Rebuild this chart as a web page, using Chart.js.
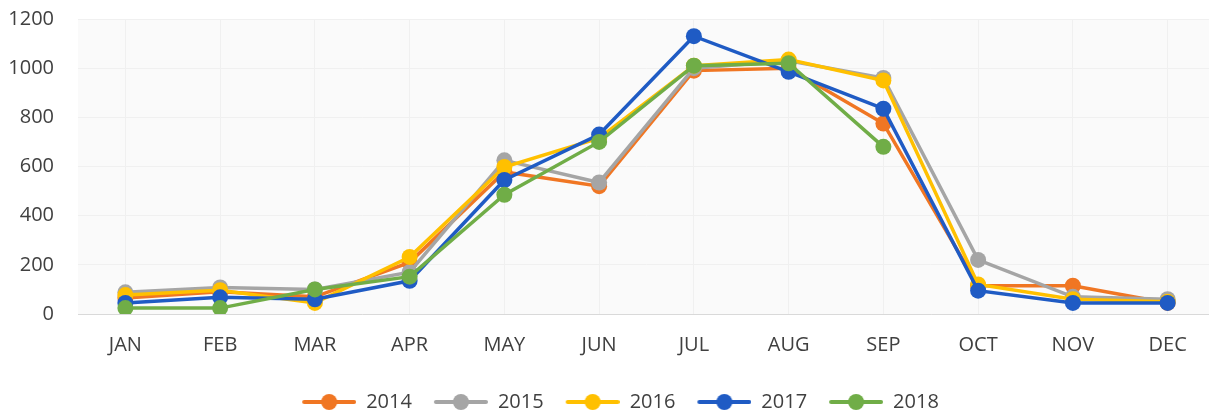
<!DOCTYPE html>
<html>
<head>
<meta charset="utf-8">
<script src="https://cdn.jsdelivr.net/npm/chart.js@4/dist/chart.umd.min.js"></script>
<style>
  html, body { margin: 0; padding: 0; background: #fff; overflow: hidden; }
  #wrap { width: 1243px; height: 412px; }
</style>
</head>
<body>
<div id="wrap"><canvas id="myChart" width="1243" height="412"></canvas></div>
<script>
// data
const months = ["JAN","FEB","MAR","APR","MAY","JUN","JUL","AUG","SEP","OCT","NOV","DEC"];
const years = ["2014","2015","2016","2017","2018"];
const y2014 = [65, 90, 70, 210, 578, 520, 990, 1000, 775, 115, 115, 45];
const y2015 = [88, 108, 100, 170, 625, 535, 1000, 1030, 960, 220, 70, 60];
const y2016 = [77, 97, 45, 232, 598, 715, 1010, 1035, 950, 120, 60, 50];
const y2017 = [45, 68, 60, 135, 545, 730, 1130, 985, 835, 95, 45, 45];
const y2018 = [24, 24, 100, 152, 485, 700, 1010, 1020, 680, null, null, null];
const colors = ["#F07623", "#A5A5A5", "#FFC000", "#1F5BC4", "#70AD47"];
const yTicks = [0, 200, 400, 600, 800, 1000, 1200];

const series = [y2014, y2015, y2016, y2017, y2018];

Chart.defaults.font.family = "'Open Sans', sans-serif";
Chart.defaults.font.size = 20;
Chart.defaults.color = "#404040";

// legend marker: line with a dot in the middle
function legendMark(color) {
    const c = document.createElement("canvas");
    c.width = 66; c.height = 20;
    const g = c.getContext("2d");
    g.strokeStyle = color; g.lineWidth = 4; g.lineCap = "round";
    g.beginPath(); g.moveTo(14, 10); g.lineTo(64, 10); g.stroke();
    g.fillStyle = color;
    g.beginPath(); g.arc(39, 10, 8, 0, Math.PI * 2); g.fill();
    return c;
}

const plotBg = {
    id: "plotBg",
    afterLayout(chart) {
        // nudge legend a little to the right, like the original
        chart.legend.left += 7;
        chart.legend.right += 7;
    },
    beforeDraw(chart) {
        const a = chart.chartArea, ctx = chart.ctx;
        ctx.save();
        ctx.fillStyle = "#fafafa";
        ctx.fillRect(a.left, a.top, a.right - a.left, a.bottom - a.top);
        ctx.restore();
    }
};

var ctx = document.getElementById('myChart').getContext('2d');
var chart = new Chart(ctx, {
    type: "line",
    data: {
        labels: months,
        datasets: series.map((d, i) => ({
            label: years[i],
            data: d,
            borderColor: colors[i],
            backgroundColor: colors[i],
            borderWidth: 3.5,
            pointRadius: 8,
            pointBorderWidth: 0,
            pointBackgroundColor: colors[i],
            tension: 0,
            order: 5 - i
        }))
    },
    options: {
        responsive: false,
        devicePixelRatio: 1,
        animation: false,
        layout: { padding: { top: 19, right: 28, left: 0, bottom: -10 } },
        scales: {
            x: {
                offset: true,
                grid: { color: "#f0f0f0", drawTicks: false, offset: false },
                border: { color: "#d9d9d9", width: 1 },
                ticks: { padding: 19 },
                afterFit: (s) => { s.height = 68; }
            },
            y: {
                min: 0, max: 1200,
                afterBuildTicks: (s) => { s.ticks = yTicks.map(v => ({ value: v })); },
                grid: { color: "#f0f0f0", drawTicks: true, tickLength: 20, tickColor: "rgba(0,0,0,0)" },
                border: { display: false },
                ticks: { padding: 4, callback: (v) => String(v) },
                afterFit: (s) => { s.width = 78; }
            }
        },
        plugins: {
            tooltip: { enabled: false },
            legend: {
                position: "bottom",
                labels: {
                    usePointStyle: true,
                    pointStyleWidth: 66,
                    boxHeight: 20,
                    padding: 10,
                    font: { size: 20 },
                    sort: (a, b) => a.datasetIndex - b.datasetIndex,
                    generateLabels: (ch) => Chart.defaults.plugins.legend.labels.generateLabels(ch)
                        .map(it => Object.assign(it, { pointStyle: legendMark(colors[it.datasetIndex]) }))
                }
            }
        }
    },
    plugins: [plotBg]
});
</script>
</body>
</html>
